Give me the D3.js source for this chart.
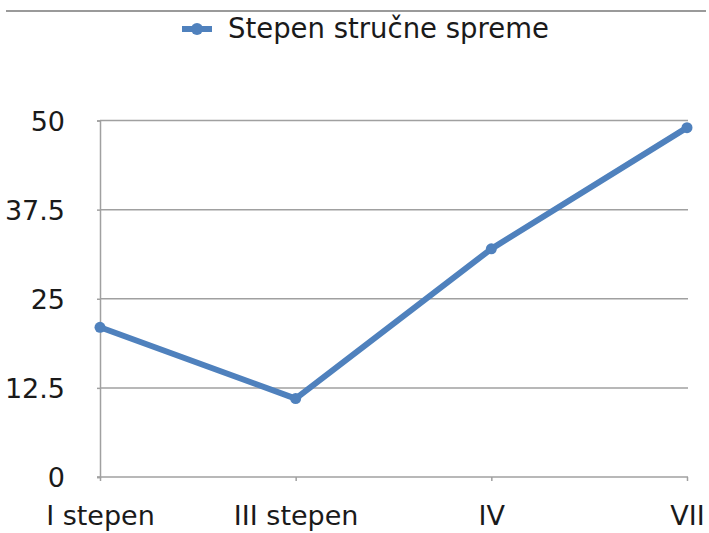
<!DOCTYPE html>
<html>
<head>
<meta charset="utf-8">
<script src="https://cdn.jsdelivr.net/npm/d3@7"></script>
<style>
  body { margin: 0; background: #fff; }
  svg text { font-family: "DejaVu Sans", sans-serif; fill: #1a1a1a; }
</style>
</head>
<body>
<svg id="chart" width="709" height="533"></svg>
<script>
var categories = ["I stepen", "III stepen", "IV", "VII"];
var values = [21, 11, 32, 49];
var yTicks = [0, 12.5, 25, 37.5, 50];
var seriesName = "Stepen stručne spreme";

var svg = d3.select("#chart");
var color = "#4f81bd";
var grid = "#a0a0a0";

var x = d3.scalePoint().domain(categories).range([100, 687]);
var y = d3.scaleLinear().domain([0, 50]).range([477, 120.5]);

// top frame line
svg.append("line")
  .attr("x1", 6).attr("x2", 706)
  .attr("y1", 11).attr("y2", 11)
  .attr("stroke", "#9a9a9a").attr("stroke-width", 2);

// gridlines + y axis
var yAxis = d3.axisLeft(y).tickValues(yTicks).tickSize(3).tickPadding(32)
  .tickFormat(function(d) { return d; });
var gy = svg.append("g").attr("transform", "translate(100,0)").call(yAxis);
gy.select(".domain").attr("stroke", grid).attr("stroke-width", 1.5);
gy.selectAll(".tick line").attr("stroke", grid).attr("stroke-width", 1.5);
gy.selectAll(".tick text")
  .attr("font-family", "'DejaVu Sans Condensed', 'DejaVu Sans', sans-serif")
  .attr("font-size", 27).attr("fill", "#1a1a1a").attr("dy", "0.36em");

svg.append("g").selectAll("line")
  .data(yTicks.filter(function(d) { return d > 0; }))
  .enter().append("line")
  .attr("x1", 100).attr("x2", 688)
  .attr("y1", function(d) { return y(d); })
  .attr("y2", function(d) { return y(d); })
  .attr("stroke", grid).attr("stroke-width", 1.5);

// x axis
var xAxis = d3.axisBottom(x).tickSize(4).tickPadding(25);
var gx = svg.append("g").attr("transform", "translate(0," + y(0) + ")").call(xAxis);
gx.select(".domain").attr("stroke", grid).attr("stroke-width", 1.5)
  .attr("d", "M" + (x(categories[0]) - 3) + ",0H" + (x(categories[categories.length - 1]) + 1));
gx.selectAll(".tick line").attr("stroke", grid).attr("stroke-width", 1.5);
gx.selectAll(".tick text").attr("font-size", 27).attr("fill", "#1a1a1a");

// series
var line = d3.line()
  .x(function(d, i) { return x(categories[i]); })
  .y(function(d) { return y(d); });

svg.append("path")
  .datum(values)
  .attr("d", line)
  .attr("fill", "none")
  .attr("stroke", color)
  .attr("stroke-width", 6)
  .attr("stroke-linejoin", "round");

svg.selectAll("circle.pt")
  .data(values)
  .enter().append("circle")
  .attr("class", "pt")
  .attr("cx", function(d, i) { return x(categories[i]); })
  .attr("cy", function(d) { return y(d); })
  .attr("r", 5.5)
  .attr("fill", color);

// legend
var lg = svg.append("g");
lg.append("line")
  .attr("x1", 182).attr("x2", 212).attr("y1", 29).attr("y2", 29)
  .attr("stroke", color).attr("stroke-width", 6);
lg.append("circle").attr("cx", 197).attr("cy", 29).attr("r", 6).attr("fill", color);
lg.append("text").attr("x", 228).attr("y", 38).attr("font-size", 27.5).text(seriesName);
</script>
</body>
</html>
